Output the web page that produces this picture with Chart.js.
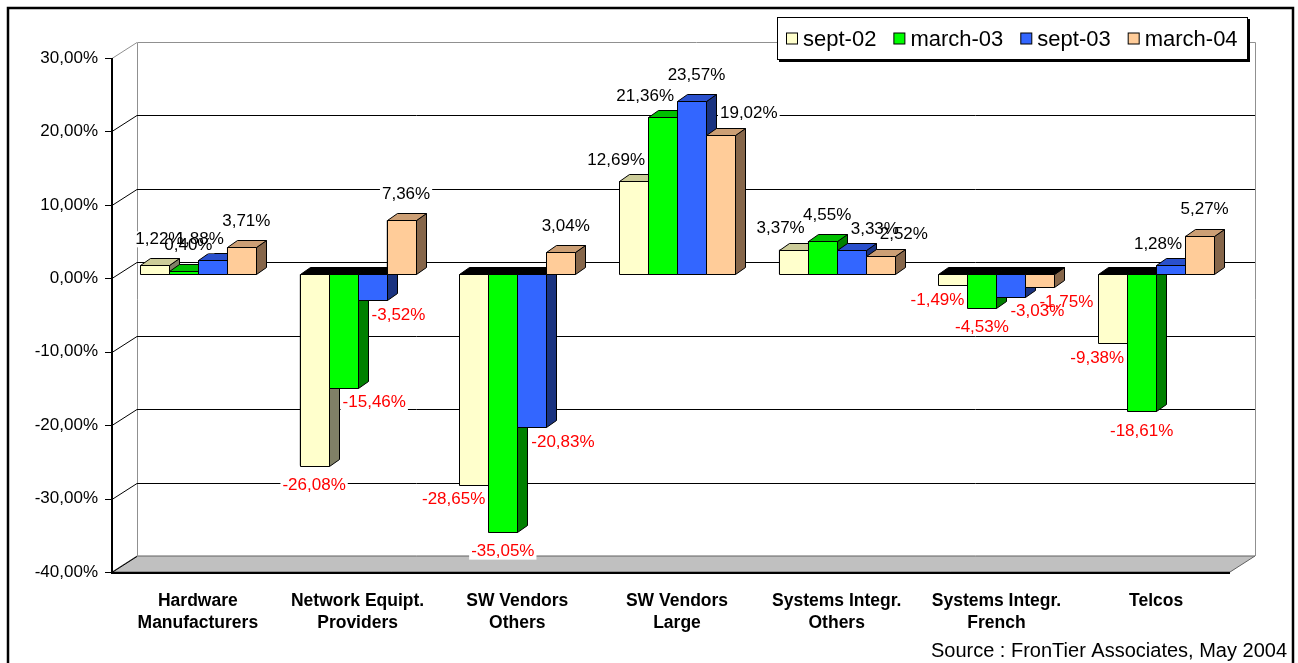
<!DOCTYPE html>
<html>
<head>
<meta charset="utf-8">
<script src="https://cdn.jsdelivr.net/npm/chart.js@4.4.1/dist/chart.umd.min.js"></script>
<style>
  body { margin: 0; background: #fff; }
  #wrap { width: 1298px; height: 663px; position: relative; }
</style>
</head>
<body>
<div id="wrap"><canvas id="chart"></canvas></div>
<script>
const categories = [['Hardware', 'Manufacturers'], ['Network Equipt.', 'Providers'], ['SW Vendors', 'Others'], ['SW Vendors', 'Large'], ['Systems Integr.', 'Others'], ['Systems Integr.', 'French'], 'Telcos']
const seriesNames = ['sept-02', 'march-03', 'sept-03', 'march-04']
const sept02 = [1.22, -26.08, -28.65, 12.69, 3.37, -1.49, -9.38]
const march03 = [0.40, -15.46, -35.05, 21.36, 4.55, -4.53, -18.61]
const sept03 = [1.88, -3.52, -20.83, 23.57, 3.33, -3.03, 1.28]
const march04 = [3.71, 7.36, 3.04, 19.02, 2.52, -1.75, 5.27]
const yMin = -40, yMax = 30, yStep = 10

const frontColors = ['#FFFFCC', '#00FF00', '#3366FF', '#FFCC99']
const topColors = ['#CCCC99', '#00C000', '#2A50CC', '#CC9F75']
const sideColors = ['#808066', '#008000', '#1A3380', '#86664A']

// bar depth, and offsets of the front axis plane / back wall from the bar plane
const DX = 10, DY = -7
const FRONT = { x: -6, y: 4 }
const BACK = { x: 19, y: -12 }

const SANS = 'Arial, "Liberation Sans", sans-serif'
const fmt = v => v.toFixed(2).replace('.', ',') + '%'

function poly(ctx, pts, fill, stroke) {
  ctx.beginPath()
  ctx.moveTo(pts[0][0], pts[0][1])
  for (let i = 1; i < pts.length; i++) ctx.lineTo(pts[i][0], pts[i][1])
  ctx.closePath()
  if (fill) { ctx.fillStyle = fill; ctx.fill() }
  if (stroke) { ctx.strokeStyle = stroke; ctx.stroke() }
}

const threeD = {
  id: 'threeD',
  beforeDatasetsDraw(chart) {
    const ctx = chart.ctx
    const ca = chart.chartArea
    const ys = chart.scales.y
    const fl = ca.left + FRONT.x, fr = ca.right + FRONT.x
    const bl = ca.left + BACK.x, br = ca.right + BACK.x
    ctx.save()
    ctx.lineWidth = 1
    // floor
    const yb = ys.getPixelForValue(yMin)
    poly(ctx, [[fl, yb + FRONT.y], [fr, yb + FRONT.y], [br, yb + BACK.y], [bl, yb + BACK.y]], '#C0C0C0', '#606060')
    // back wall edges
    const yt = ys.getPixelForValue(yMax)
    ctx.strokeStyle = '#909090'
    ctx.beginPath()
    ctx.moveTo(bl + 0.5, yb + BACK.y); ctx.lineTo(bl + 0.5, yt + BACK.y + 0.5); ctx.lineTo(br + 0.5, yt + BACK.y + 0.5); ctx.lineTo(br + 0.5, yb + BACK.y)
    ctx.stroke()
    // gridlines on back wall + connectors on side wall
    for (let v = yMin; v <= yMax; v += yStep) {
      const py = Math.round(ys.getPixelForValue(v))
      ctx.strokeStyle = (v === yMax) ? '#909090' : '#000'
      if (v !== yMax && v !== yMin) {
        ctx.beginPath()
        ctx.moveTo(bl, py + BACK.y + 0.5); ctx.lineTo(br, py + BACK.y + 0.5)
        ctx.stroke()
      }
      ctx.beginPath()
      ctx.moveTo(fl, py + FRONT.y + 0.5); ctx.lineTo(bl, py + BACK.y + 0.5)
      ctx.stroke()
    }
    // front axis and tick marks
    ctx.strokeStyle = '#000'
    ctx.lineWidth = 2
    ctx.beginPath()
    ctx.moveTo(fl, Math.round(yt) + FRONT.y); ctx.lineTo(fl, Math.round(yb) + FRONT.y + 1)
    ctx.lineTo(fr, Math.round(yb) + FRONT.y + 1)
    ctx.stroke()
    ctx.lineWidth = 1
    for (let v = yMin; v <= yMax; v += yStep) {
      const py = Math.round(ys.getPixelForValue(v)) + FRONT.y + 0.5
      ctx.beginPath(); ctx.moveTo(fl - 7, py); ctx.lineTo(fl, py); ctx.stroke()
    }
    ctx.restore()
  },
  afterDatasetsDraw(chart) {
    const ctx = chart.ctx
    const sets = chart.data.datasets
    const n = chart.data.labels.length
    const props = (d, i) => chart.getDatasetMeta(d).data[i].getProps(['x', 'y', 'base', 'width'], true)
    ctx.save()
    ctx.lineWidth = 1
    for (let i = 0; i < n; i++) {
      for (let d = 0; d < sets.length; d++) {
        const p = props(d, i)
        const l = Math.round(p.x - p.width / 2) + 0.5, r = Math.round(p.x + p.width / 2) + 0.5
        const t = Math.round(Math.min(p.y, p.base)) + 0.5, b = Math.round(Math.max(p.y, p.base)) + 0.5
        const pos = sets[d].data[i] >= 0
        poly(ctx, [[r, t], [r + DX, t + DY], [r + DX, b + DY], [r, b]], sideColors[d], '#000')
        poly(ctx, [[l, t], [l + DX, t + DY], [r + DX, t + DY], [r, t]], pos ? topColors[d] : '#000', '#000')
        poly(ctx, [[l, t], [r, t], [r, b], [l, b]], frontColors[d], '#000')
      }
    }
    // value labels, nudged sideways away from a neighbouring bar that reaches further
    ctx.font = '17px ' + SANS
    ctx.textAlign = 'center'
    ctx.textBaseline = 'middle'
    const labels = []
    for (let i = 0; i < n; i++) {
      for (let d = 0; d < sets.length; d++) {
        const v = sets[d].data[i]
        const p = props(d, i)
        const txt = fmt(v)
        const w = ctx.measureText(txt).width
        const left = d > 0 ? sets[d - 1].data[i] : null
        const right = d < sets.length - 1 ? sets[d + 1].data[i] : null
        let cx = p.x, cy
        if (v >= 0) {
          const rT = right !== null && right > v, lT = left !== null && left > v
          if (rT && !lT) { const q = props(d + 1, i); cx = q.x - q.width / 2 - 3 - w / 2; cy = p.y - 21 }
          else if (lT && !rT) { const q = props(d - 1, i); cx = q.x + q.width / 2 + DX + 4 + w / 2; cy = p.y - 21 }
          else { cx = p.x + DX / 2; cy = p.y - 26 }
        } else {
          const lL = left !== null && left < v, rL = right !== null && right < v
          if (lL && !rL) { const q = props(d - 1, i); cx = q.x + q.width / 2 + DX + 4 + w / 2; cy = p.y + 15 }
          else if (rL && !lL) { const q = props(d + 1, i); cx = q.x - q.width / 2 - 3 - w / 2; cy = p.y + 15 }
          else { cx = p.x; cy = p.y + 20 }
        }
        labels.push({ txt, w, cx, cy, neg: v < 0 })
      }
    }
    ctx.fillStyle = '#fff'
    labels.forEach(o => ctx.fillRect(o.cx - o.w / 2 - 2, o.cy - 8, o.w + 4, 16))
    labels.forEach(o => {
      ctx.fillStyle = o.neg ? '#FF0000' : '#000'
      ctx.fillText(o.txt, o.cx, o.cy)
    })
    ctx.restore()
  },
  afterDraw(chart) {
    const ctx = chart.ctx
    ctx.save()
    // legend
    const lx = 777, ly = 17, lw = 471, lh = 43
    ctx.fillStyle = '#000'
    ctx.fillRect(lx + 2, ly + 2, lw, lh)
    ctx.fillStyle = '#fff'
    ctx.fillRect(lx, ly, lw, lh)
    ctx.strokeStyle = '#000'
    ctx.lineWidth = 1
    ctx.strokeRect(lx + 0.5, ly + 0.5, lw - 1, lh - 1)
    ctx.font = '22px ' + SANS
    ctx.textBaseline = 'middle'
    ctx.textAlign = 'left'
    let x = 786
    const my = ly + lh / 2 + 1
    seriesNames.forEach((name, k) => {
      ctx.fillStyle = frontColors[k]
      ctx.fillRect(x + 0.5, my - 6.5, 11, 11)
      ctx.strokeRect(x + 0.5, my - 6.5, 11, 11)
      ctx.fillStyle = '#000'
      ctx.fillText(name, x + 17, my)
      x += 17 + ctx.measureText(name).width + 17
    })
    // source note
    ctx.font = '20px ' + SANS
    ctx.textAlign = 'right'
    ctx.textBaseline = 'middle'
    ctx.fillText('Source : FronTier Associates, May 2004', 1287, 651)
    // outer frame
    ctx.lineWidth = 2.5
    ctx.strokeRect(8, 8, 1285, 680)
    ctx.restore()
  }
}

new Chart('chart', {
  type: 'bar',
  data: {
    labels: categories,
    datasets: [sept02, march03, sept03, march04].map((vals, k) => ({
      label: seriesNames[k],
      data: vals,
      backgroundColor: frontColors[k],
      borderColor: '#000',
      borderWidth: 1
    }))
  },
  options: {
    responsive: true,
    maintainAspectRatio: false,
    animation: false,
    layout: { padding: { top: 54, right: 62, left: 0, bottom: 0 } },
    datasets: { bar: { categoryPercentage: 0.726, barPercentage: 1 } },
    plugins: { legend: { display: false }, tooltip: { enabled: false } },
    scales: {
      x: {
        grid: { display: false, drawTicks: false },
        border: { display: false },
        ticks: {
          color: '#000',
          padding: 22,
          maxRotation: 0,
          autoSkip: false,
          font: { family: SANS, size: 17.5, weight: 'bold', lineHeight: 1.26 }
        },
        afterFit: s => { s.height = 95 }
      },
      y: {
        min: yMin,
        max: yMax,
        grid: { display: false, drawTicks: false },
        border: { display: false },
        ticks: {
          stepSize: yStep,
          color: '#000',
          padding: 20,
          labelOffset: 4,
          font: { family: SANS, size: 17 },
          callback: v => fmt(v)
        },
        afterFit: s => { s.width = 118 }
      }
    }
  },
  plugins: [threeD]
})
</script>
</body>
</html>
